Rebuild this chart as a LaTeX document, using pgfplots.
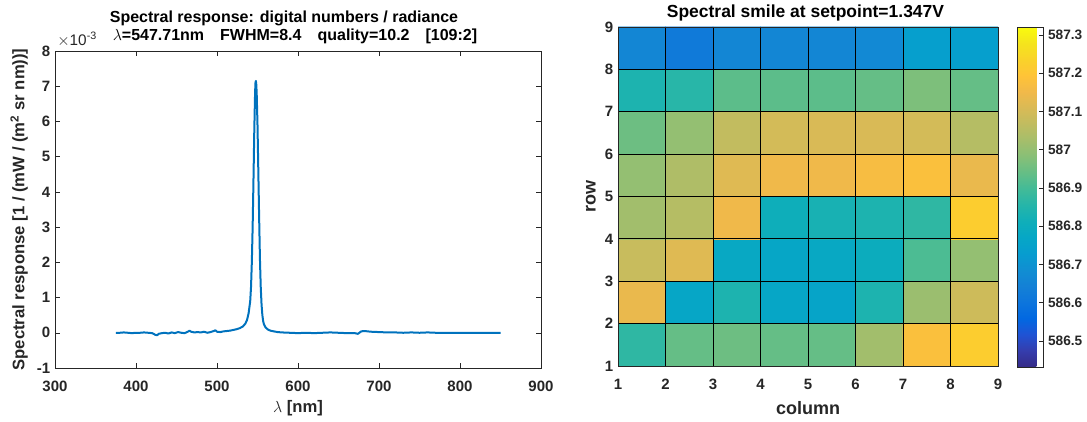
\documentclass[border=0pt]{standalone}
\usepackage{fontspec}
\setmainfont{Liberation Sans}
\usepackage{pgfplots}
\usepackage{pgfplotstable}
\pgfplotsset{compat=1.18}
\definecolor{mblue}{rgb}{0,0.447,0.741}
\definecolor{mgray}{rgb}{0.15,0.15,0.15}
\pgfplotsset{
  colormap={parula}{
    rgb=(0.2081,0.1663,0.5292)
    rgb=(0.2081,0.2386,0.6771)
    rgb=(0.1253,0.3242,0.8303)
    rgb=(0.0060,0.4086,0.8828)
    rgb=(0.0498,0.4586,0.8641)
    rgb=(0.0779,0.5040,0.8384)
    rgb=(0.0641,0.5570,0.8240)
    rgb=(0.0265,0.6137,0.8135)
    rgb=(0.0228,0.6535,0.7768)
    rgb=(0.0590,0.6838,0.7254)
    rgb=(0.1453,0.7098,0.6646)
    rgb=(0.2586,0.7317,0.5954)
    rgb=(0.3953,0.7459,0.5244)
    rgb=(0.5300,0.7491,0.4661)
    rgb=(0.6473,0.7456,0.4188)
    rgb=(0.7525,0.7384,0.3768)
    rgb=(0.8507,0.7299,0.3360)
    rgb=(0.9450,0.7261,0.2886)
    rgb=(0.9990,0.7653,0.2164)
    rgb=(0.9789,0.8271,0.1633)
    rgb=(0.9589,0.8949,0.1132)
    rgb=(0.9763,0.9831,0.0538)
  },
  mystyle/.style={
    scale only axis,
    tick label style={font=\bfseries\fontsize{11.25}{13}\selectfont, color=mgray},
    xticklabel style={yshift=-6pt},
    /pgf/number format/assume math mode=true,
    label style={font=\bfseries\fontsize{12.5}{15}\selectfont, color=mgray},
    axis line style={mgray},
    every tick/.style={mgray},
  }
}
\pgfplotstableread{
x y c
1.5 1.5 586.87
2.5 1.5 586.94
3.5 1.5 586.95
4.5 1.5 586.94
5.5 1.5 586.94
6.5 1.5 587.02
7.5 1.5 587.18
8.5 1.5 587.22
1.5 2.5 587.14
2.5 2.5 586.77
3.5 2.5 586.84
4.5 2.5 586.77
5.5 2.5 586.76
6.5 2.5 586.84
7.5 2.5 587.01
8.5 2.5 587.09
1.5 3.5 587.08
2.5 3.5 587.12
3.5 3.5 586.78
4.5 3.5 586.77
5.5 3.5 586.78
6.5 3.5 586.80
7.5 3.5 586.91
8.5 3.5 587.00
1.5 4.5 587.02
2.5 4.5 587.05
3.5 4.5 587.15
4.5 4.5 586.81
5.5 4.5 586.83
6.5 4.5 586.84
7.5 4.5 586.87
8.5 4.5 587.22
1.5 5.5 587.00
2.5 5.5 587.04
3.5 5.5 587.12
4.5 5.5 587.15
5.5 5.5 587.15
6.5 5.5 587.17
7.5 5.5 587.18
8.5 5.5 587.14
1.5 6.5 586.95
2.5 6.5 587.00
3.5 6.5 587.07
4.5 6.5 587.10
5.5 6.5 587.11
6.5 6.5 587.11
7.5 6.5 587.10
8.5 6.5 587.05
1.5 7.5 586.84
2.5 7.5 586.86
3.5 7.5 586.93
4.5 7.5 586.93
5.5 7.5 586.93
6.5 7.5 586.94
7.5 7.5 586.97
8.5 7.5 586.94
1.5 8.5 586.66
2.5 8.5 586.62
3.5 8.5 586.66
4.5 8.5 586.66
5.5 8.5 586.66
6.5 8.5 586.67
7.5 8.5 586.74
8.5 8.5 586.74
}\smiledata
\begin{document}
\begin{tikzpicture}
\useasboundingbox (0,0) rectangle (815.25pt,315.75pt);
% ---------------- left: spectral response
\begin{axis}[mystyle,
  name=leftax,
  at={(41.25pt,39.75pt)}, anchor=south west,
  width=364.5pt, height=237.75pt,
  xmin=300, xmax=900, ymin=-1, ymax=8,
  xtick={300,400,500,600,700,800,900},
  ytick={-1,0,1,2,3,4,5,6,7,8},
  tick align=inside, major tick length=3.75pt,
  xlabel={$\lambda$ [nm]},
  ylabel={Spectral response [1 / (mW / (m\textsuperscript{2} sr nm))]},
]
\addplot[mblue, line width=1.5pt, line join=round] coordinates {
(375,0.00) (380,0.00) (385,0.01) (390,0.00) (395,-0.01) (400,0.00) (405,0.00) (410,0.01) (415,0.00) (420,-0.01)
(424,-0.06) (426,-0.07) (428,-0.03) (432,-0.01) (436,0.00) (440,-0.02) (444,0.01) (448,-0.01) (452,0.02) (456,0.00)
(460,-0.01) (464,0.03) (466,0.06) (468,0.03) (472,0.01) (476,0.02) (480,0.01) (484,0.03) (488,0.00) (492,0.02)
(496,0.05) (498,0.07) (500,0.03) (504,0.02) (508,0.04) (512,0.05) (516,0.06) (520,0.08) (524,0.10) (528,0.13)
(532,0.18) (535,0.26) (537,0.36) (539,0.55) (541,0.9) (542,1.3) (543,2.0) (544,3.0) (545,4.3) (546,5.7)
(547,6.8) (547.5,7.1) (548,7.15) (548.5,7.05) (549,6.8) (550,5.9) (551,4.6) (552,3.3) (553,2.1) (554,1.3)
(555,0.8) (556,0.5) (557,0.33) (558,0.24) (560,0.15) (563,0.09) (566,0.06) (570,0.04) (575,0.02) (580,0.01)
(590,0.00) (600,-0.01) (610,0.00) (620,-0.01) (630,0.00) (640,0.01) (650,0.00) (660,-0.01) (670,-0.01) (674,-0.03)
(678,0.04) (682,0.05) (690,0.03) (700,0.02) (710,0.01) (720,0.01) (730,0.00) (740,0.01) (750,0.00) (760,0.01)
(770,0.00) (780,0.00) (790,0.00) (800,0.00) (810,0.00) (820,0.00) (830,0.00) (840,0.00) (850,0.00)
};
\end{axis}
\node[anchor=base west, font=\fontsize{11.5}{13}\selectfont, color=mgray, inner sep=0pt]
  at (42.75pt,281.5pt) {$\times$10\textsuperscript{-3}};
\node[anchor=base, font=\bfseries\fontsize{12}{14}\selectfont, inner sep=0pt]
  at (213pt,298.5pt) {Spectral response: digital numbers / radiance};
\node[anchor=base, font=\bfseries\fontsize{12}{14}\selectfont, inner sep=0pt]
  at (221.25pt,285.5pt) {$\lambda$=547.71nm\quad FWHM=8.4\quad quality=10.2\quad [109:2]};
% ---------------- right: spectral smile
\begin{axis}[mystyle,
  at={(463.5pt,41.25pt)}, anchor=south west,
  width=285pt, height=254.25pt,
  xmin=1, xmax=9, ymin=1, ymax=9,
  xtick={1,...,9}, ytick={1,...,9},
  major tick length=0pt,
  axis on top,
  xmajorgrids, ymajorgrids,
  grid style={black, line width=0.6pt},
  label style={font=\bfseries\fontsize{13.5}{16}\selectfont, color=mgray},
  xlabel style={yshift=-2pt},
  xlabel={column}, ylabel={row},
  colormap name=parula,
  point meta min=586.432, point meta max=587.321,
  colorbar,
  colorbar style={
    scale only axis,
    at={(parent axis.north east)}, anchor=north west, xshift=6pt,
    width=19.5pt, height=255pt,
    ytick={586.5,586.6,586.7,586.8,586.9,587,587.1,587.2,587.3},
    yticklabels={586.5,586.6,586.7,586.8,586.9,587,587.1,587.2,587.3},
    yticklabel style={font=\bfseries\fontsize{10.25}{12}\selectfont, color=mgray},
    ytick pos=right, tick align=inside, major tick length=3pt,
    axis line style={mgray},
  },
]
\addplot[matrix plot*, mesh/cols=8, point meta=explicit] table[x=x, y=y, meta=c] {\smiledata};
\end{axis}
\node[anchor=base, font=\bfseries\fontsize{13.1}{15}\selectfont, inner sep=0pt]
  at (604.1pt,302.25pt) {Spectral smile at setpoint=1.347V};
\end{tikzpicture}
\end{document}
